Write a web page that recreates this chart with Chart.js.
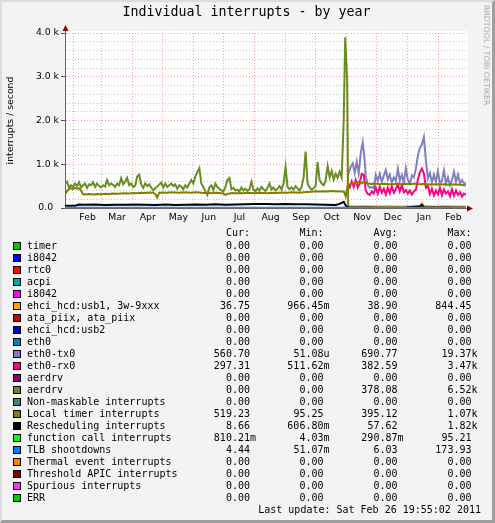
<!DOCTYPE html>
<html><head><meta charset="utf-8">
<script src="https://cdn.jsdelivr.net/npm/chart.js@4.4.1/dist/chart.umd.min.js"></script>
<style>
html,body{margin:0;padding:0;}
body{width:495px;height:523px;overflow:hidden;background:#F3F3F3;position:relative;}
#frame{position:absolute;left:0;top:0;width:495px;height:523px;box-sizing:border-box;border-left:2px solid #DCDCDC;border-top:2px solid #DCDCDC;border-right:3px solid #9E9E9E;border-bottom:3px solid #9E9E9E;pointer-events:none;z-index:5;}
#c{position:absolute;left:0;top:0;}
.t{position:absolute;white-space:pre;font-family:"DejaVu Sans Mono",monospace;font-size:10px;line-height:12px;color:#000;}
.r{text-align:right;}
.sq{position:absolute;width:8px;height:8px;box-sizing:border-box;border:1px solid #000;}
#title{position:absolute;left:0;width:493px;top:4px;text-align:center;font-family:"DejaVu Sans Mono",monospace;font-size:13.3px;line-height:16px;color:#000;white-space:pre;}
#credit{position:absolute;left:482px;top:5px;writing-mode:vertical-rl;font-family:"DejaVu Sans",sans-serif;font-size:7.8px;line-height:8px;color:#A8A8A8;white-space:pre;}
</style></head>
<body>
<canvas id="c" width="495" height="523" style="width:495px;height:523px"></canvas>
<div id="title">Individual interrupts - by year</div>
<div id="credit">RRDTOOL / TOBI OETIKER</div>
<div id="legend"></div>
<div id="frame"></div>
<script>
// ---------- axis definitions ----------
const X_MIN = 0, X_MAX = 400;            // days since Jan 24 2010
const monthStartDays = [8,36,67,97,128,158,189,220,250,281,311,342,373];
const monthLabelDays = [22.5,52,82.5,113,143.5,174,205,235.5,266,296.5,327,358,387.5];
const monthLabels = ["Feb","Mar","Apr","May","Jun","Jul","Aug","Sep","Oct","Nov","Dec","Jan","Feb"];
const yTickValues = [0,200,400,600,800,1000,1200,1400,1600,1800,2000,2200,2400,2600,2800,3000,3200,3400,3600,3800,4000];
const yMajorValues = [1000,2000,3000,4000];
const Y_MAX = 4000;

// ---------- series names / colours / legend stats ----------
const seriesNames = ["timer","i8042","rtc0","acpi","i8042","ehci_hcd:usb1, 3w-9xxx","ata_piix, ata_piix","ehci_hcd:usb2","eth0","eth0-tx0","eth0-rx0","aerdrv","aerdrv","Non-maskable interrupts","Local timer interrupts","Rescheduling interrupts","function call interrupts","TLB shootdowns","Thermal event interrupts","Threshold APIC interrupts","Spurious interrupts","ERR"];
const seriesColors = ["#00CC00","#0000FF","#FF0000","#00AAAA","#FF00FF","#FFA500","#CC0000","#0000CC","#0080C0","#8080C0","#FF0080","#800080","#688E23","#408080","#808000","#000000","#00FF00","#0080FF","#FF8000","#800000","#FB31FB","#00CC00"];
const legendCur = ["0.00","0.00","0.00","0.00","0.00","36.75","0.00","0.00","0.00","560.70","297.31","0.00","0.00","0.00","519.23","8.66","810.21m","4.44","0.00","0.00","0.00","0.00"];
const legendMin = ["0.00","0.00","0.00","0.00","0.00","966.45m","0.00","0.00","0.00","51.08u","511.62m","0.00","0.00","0.00","95.25","606.80m","4.03m","51.07m","0.00","0.00","0.00","0.00"];
const legendAvg = ["0.00","0.00","0.00","0.00","0.00","38.90","0.00","0.00","0.00","690.77","382.59","0.00","378.08","0.00","395.12","57.62","290.87m","6.03","0.00","0.00","0.00","0.00"];
const legendMax = ["0.00","0.00","0.00","0.00","0.00","844.45","0.00","0.00","0.00","19.37k","3.47k","0.00","6.52k","0.00","1.07k","1.82k","95.21","173.93","0.00","0.00","0.00","0.00"];
const lastUpdate = "Last update: Sat Feb 26 19:55:02 2011";

// ---------- series values ----------
const zeroDays = [0,400];
const zeroVals = [0,0];

const aerdrvDays = [0,2,4,6,8,10,12,14,16,18,20,22,24,26,28,30,32,34,36,38,40,42,44,46,48,50,52,54,56,58,60,62,64,66,68,70,72,74,76,78,80,82,84,86,88,90,92,94,96,98,100,102,104,106,108,110,112,114,116,118,120,122,124,126,128,130,132,134,136,138,140,142,144,146,148,150,152,154,156,158,160,162,164,166,168,170,172,174,176,178,180,182,184,186,188,190,192,194,196,198,200,202,204,206,208,210,212,214,216,218,220,222,224,226,228,230,232,234,236,238,240,242,244,246,248,250,252,254,256,258,260,262,264,266,268,270,272,274,276,278,279.5,281.5,282.5,400];
const aerdrvVals = [560,600,470,520,480,560,500,590,470,520,560,460,540,520,590,480,560,500,470,520,490,640,520,560,530,480,560,520,680,540,600,690,520,560,480,510,720,760,540,460,560,500,540,470,400,450,490,540,580,470,560,480,520,560,500,540,440,520,490,430,520,470,560,640,560,720,820,910,560,480,380,300,470,520,410,560,480,440,400,380,480,640,690,430,460,400,420,380,470,400,440,390,430,600,420,380,450,400,480,430,390,460,560,420,470,400,440,500,420,560,940,480,430,470,420,500,450,400,480,700,1290,560,470,420,450,500,1050,640,560,520,630,960,700,850,650,780,690,830,700,2000,3900,2900,0,0];

const localTimerDays = [0,2,4,6,8,10,12,14,16,18,20,24,28,32,36,40,44,48,52,56,60,64,68,72,76,80,84,88,90,92,94,98,102,106,110,114,118,122,126,130,134,138,142,146,150,154,158,160,162,166,170,174,178,182,186,190,194,198,202,206,210,214,218,222,226,230,234,238,242,246,250,254,258,262,266,270,274,278,280,282,284,288,292,294,296,298,302,306,310,314,318,322,326,330,334,338,342,346,350,354,358,362,366,370,374,378,382,386,390,394,398,400];
const localTimerVals = [300,380,440,450,430,460,440,450,400,320,310,320,310,320,315,325,320,330,325,330,335,330,345,340,350,345,355,350,320,240,350,355,350,360,355,350,360,355,350,360,355,345,350,340,350,345,330,300,320,340,335,345,340,350,345,340,350,345,340,350,345,350,355,350,360,355,350,360,365,370,380,375,385,380,390,385,380,380,270,520,540,560,580,620,560,600,560,550,560,545,555,550,540,555,545,550,555,550,560,545,550,545,540,545,535,540,530,540,535,530,520,520];

const reschedDays = [0,10,14,20,30,40,50,60,70,80,90,100,110,120,130,140,150,160,170,180,190,200,210,220,230,240,250,260,270,274,278,280,282,300,320,340,354,356,358,380,400];
const reschedVals = [50,52,78,74,80,70,76,72,82,76,70,78,68,74,80,72,84,76,80,84,90,92,88,94,86,84,78,72,70,95,140,60,10,9,8,9,40,70,10,9,8];

const usb1Days = [0,281,282,290,300,310,320,330,340,350,354,356,358,360,370,380,390,400];
const usb1Vals = [0,0,38,35,40,36,38,34,37,35,40,110,60,38,36,38,35,37];

const tlbDays = [0,100,200,281,400];
const tlbVals = [8,7,6,5,4];

const funcCallDays = [0,400];
const funcCallVals = [0.3,0.8];

const tx0Days = [281.5,283,285,287,289,291,293,295,297,298.5,300,302,304,306,308,310,312,314,316,318,320,322,324,326,328,330,332,334,336,338,340,342,344,346,348,350,352,354,356,358,360,362,364,366,368,370,372,374,376,378,380,382,384,386,388,390,392,394,396,398,400];
const tx0Vals = [870,800,940,1020,800,1060,790,1250,1500,1200,740,520,460,480,450,760,620,780,600,740,870,650,760,580,700,620,900,620,760,580,910,640,560,740,700,900,1200,1380,1450,1620,1080,680,800,580,760,600,840,560,620,860,560,700,520,640,830,600,760,560,640,560,560];

const rx0Days = [282,284,286,288,290,292,294,296,298,300,302,304,306,308,310,312,314,316,318,320,322,324,326,328,330,332,334,336,338,340,342,344,346,348,350,352,354,356,358,360,362,364,366,368,370,372,374,376,378,380,382,384,386,388,390,392,394,396,398,400];
const rx0Vals = [540,470,610,480,640,470,560,780,760,400,320,300,380,330,470,330,490,350,440,310,470,340,500,350,430,540,380,520,360,410,330,400,310,380,420,650,820,900,780,460,500,320,440,290,400,310,460,290,420,330,380,270,430,280,400,300,360,260,330,300];

// series index -> [days, values]
const seriesData = [
  [zeroDays,zeroVals],[zeroDays,zeroVals],[zeroDays,zeroVals],[zeroDays,zeroVals],[zeroDays,zeroVals],
  [usb1Days,usb1Vals],[zeroDays,zeroVals],[zeroDays,zeroVals],[zeroDays,zeroVals],
  [tx0Days,tx0Vals],[rx0Days,rx0Vals],[zeroDays,zeroVals],[aerdrvDays,aerdrvVals],[zeroDays,zeroVals],
  [localTimerDays,localTimerVals],[reschedDays,reschedVals],[funcCallDays,funcCallVals],[tlbDays,tlbVals],
  [zeroDays,zeroVals],[zeroDays,zeroVals],[zeroDays,zeroVals],[zeroDays,zeroVals]
];

// ---------- chart ----------
const N = seriesNames.length;
const datasets = seriesNames.map((name,i)=>({
  label: name,
  data: seriesData[i][0].map((d,k)=>({x:d, y:seriesData[i][1][k]})),
  borderColor: seriesColors[i],
  backgroundColor: seriesColors[i],
  borderWidth: 2,
  pointRadius: 0,
  tension: 0,
  fill: false,
  order: N - i
}));

const labelMap = new Map(monthLabelDays.map((d,i)=>[d, monthLabels[i]]));
const boundarySet = new Set(monthStartDays);
const majorSet = new Set(yMajorValues);
const MAJOR_GRID = 'rgba(255,0,0,0.38)';
const MINOR_GRID = 'rgba(120,120,120,0.45)';

const decor = {
  id: 'decor',
  beforeDraw(chart){
    const {ctx, chartArea:a} = chart;
    ctx.save();
    ctx.fillStyle = '#FFFFFF';
    ctx.fillRect(a.left, a.top - 2, a.right - a.left + 2, a.bottom - a.top + 2);
    ctx.restore();
  },
  afterDraw(chart){
    const {ctx, chartArea:a} = chart;
    ctx.save();
    ctx.strokeStyle = '#666';
    ctx.lineWidth = 1;
    ctx.beginPath();
    ctx.moveTo(a.left + 0.5, a.top); ctx.lineTo(a.left + 0.5, a.top - 3);
    ctx.moveTo(a.right, a.bottom + 0.5); ctx.lineTo(a.right + 2, a.bottom + 0.5);
    ctx.stroke();
    ctx.fillStyle = '#8B0000';
    ctx.beginPath();
    ctx.moveTo(a.left + 0.5, a.top - 8);
    ctx.lineTo(a.left - 2.5, a.top - 2);
    ctx.lineTo(a.left + 3.5, a.top - 2);
    ctx.closePath(); ctx.fill();
    ctx.beginPath();
    ctx.moveTo(a.right + 7, a.bottom + 0.5);
    ctx.lineTo(a.right + 1, a.bottom - 2.5);
    ctx.lineTo(a.right + 1, a.bottom + 3.5);
    ctx.closePath(); ctx.fill();
    ctx.restore();
  }
};

const tickFont = {family: '"DejaVu Sans", sans-serif', size: 9.3};

new Chart(document.getElementById('c'), {
  type: 'line',
  data: {datasets},
  plugins: [decor],
  options: {
    responsive: false,
    devicePixelRatio: 1,
    animation: false,
    events: [],
    layout: {padding: {left: 0, top: 33, right: 29, bottom: 295}},
    plugins: {legend: {display: false}, tooltip: {enabled: false}, title: {display: false}},
    scales: {
      x: {
        type: 'linear', min: X_MIN, max: X_MAX,
        afterBuildTicks(axis){
          const t = monthStartDays.concat(monthLabelDays).sort((a,b)=>a-b);
          axis.ticks = t.map(v=>({value:v}));
        },
        afterFit(scale){ scale.height = 20; },
        ticks: {
          autoSkip: false, maxRotation: 0, minRotation: 0, padding: 1,
          color: '#000', font: tickFont,
          callback(v){ return labelMap.has(v) ? labelMap.get(v) : ''; }
        },
        grid: {
          color(ctx){ return ctx.tick && boundarySet.has(ctx.tick.value) ? MAJOR_GRID : 'rgba(0,0,0,0)'; },
          tickColor: 'rgba(0,0,0,0)', tickLength: 3, lineWidth: 1, drawTicks: true
        },
        border: {display: true, color: '#666', width: 1, dash: [1,2]}
      },
      y: {
        type: 'linear', min: 0, max: Y_MAX,
        afterBuildTicks(axis){ axis.ticks = yTickValues.map(v=>({value:v})); },
        afterFit(scale){ scale.width = 65; },
        ticks: {
          autoSkip: false, padding: 2, color: '#000', font: tickFont,
          callback(v){ if (v === 0) return '0.0  '; return majorSet.has(v) ? (v/1000).toFixed(1) + ' k' : ''; }
        },
        grid: {
          color(ctx){ if (!ctx.tick || ctx.tick.value === 0) return 'rgba(0,0,0,0)'; return majorSet.has(ctx.tick.value) ? MAJOR_GRID : MINOR_GRID; },
          tickColor(ctx){ return ctx.tick && (majorSet.has(ctx.tick.value) || ctx.tick.value === 0) ? '#555' : 'rgba(0,0,0,0)'; },
          tickLength: 4, lineWidth: 1
        },
        border: {display: true, color: '#666', width: 1, dash: [1,2]},
        title: {display: true, text: 'interrupts / second', color: '#000', font: {family: '"DejaVu Sans", sans-serif', size: 9.3}, padding: {top: 5.4, bottom: 0}}
      }
    }
  }
});

// ---------- legend (HTML text) ----------
const legend = document.getElementById('legend');
const colRight = [256, 329.5, 403.5, 477.5];
function addText(txt, top, left, right){
  const d = document.createElement('div');
  d.className = 't' + (right !== undefined ? ' r' : '');
  d.textContent = txt;
  d.style.top = top + 'px';
  if (right !== undefined) d.style.right = (495 - right) + 'px'; else d.style.left = left + 'px';
  legend.appendChild(d);
}
function fmt(s){ return /[a-z]$/i.test(s) ? s : s + ' '; }
const headTop = 227.3;
["Cur: ","Min: ","Avg: ","Max: "].forEach((h,j)=>addText(h, headTop, 0, colRight[j]));
const rowTop0 = 239.5, rowStep = 12;
seriesNames.forEach((name,i)=>{
  const top = rowTop0 + i*rowStep;
  const sq = document.createElement('div');
  sq.className = 'sq';
  sq.style.left = '13px';
  sq.style.top = (top + 2) + 'px';
  sq.style.background = seriesColors[i];
  legend.appendChild(sq);
  addText(name, top, 27);
  [legendCur, legendMin, legendAvg, legendMax].forEach((arr,j)=>addText(fmt(arr[i]), top, 0, colRight[j]));
});
addText(lastUpdate, rowTop0 + N*rowStep, 0, 481);
</script>
</body></html>
